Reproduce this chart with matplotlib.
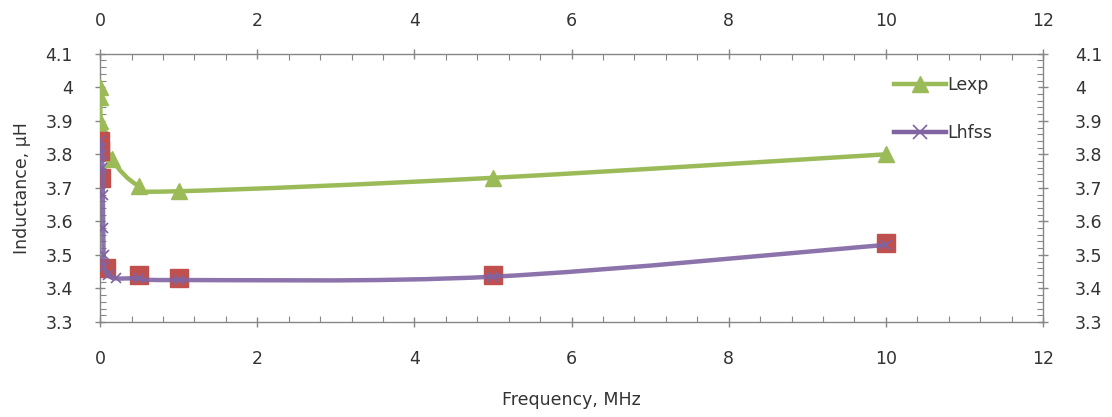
import numpy as np
import matplotlib
matplotlib.use("Agg")
import matplotlib.pyplot as plt
from matplotlib.path import Path
from matplotlib.patches import PathPatch
from matplotlib.lines import Line2D
from matplotlib.ticker import MultipleLocator

plt.rcParams["font.family"] = ["DejaVu Sans"]

# measured inductance
lexp_f = [0.001, 0.002, 0.005, 0.01, 0.15, 0.5, 1, 5, 10]
lexp = [4.00, 3.97, 3.90, 3.88, 3.785, 3.705, 3.69, 3.73, 3.80]

# HFSS simulation
lhfss_f = [0.001, 0.01, 0.02, 0.03, 0.035, 0.04, 0.045, 0.05, 0.1, 0.2, 0.5, 1, 5, 10]
lhfss = [3.84, 3.82, 3.80, 3.76, 3.68, 3.58, 3.50, 3.465, 3.44, 3.43, 3.43, 3.425, 3.435, 3.53]

# calculated points
lcalc_f = [0.001, 0.002, 0.01, 0.08, 0.5, 1, 5, 10]
lcalc = [3.84, 3.81, 3.73, 3.46, 3.44, 3.43, 3.44, 3.535]

x_ticks = [0, 2, 4, 6, 8, 10, 12]
y_ticks = [3.3, 3.4, 3.5, 3.6, 3.7, 3.8, 3.9, 4.0, 4.1]
y_labels = ["3.3", "3.4", "3.5", "3.6", "3.7", "3.8", "3.9", "4", "4.1"]

GREEN = "#9BBB59"
PURPLE = "#8064A2"
RED = "#C0504D"
GRID = "#868686"
TEXT = "#333333"
FS = 12.5


def smooth_path(x, y):
    # cubic bezier through the points, like a spreadsheet "smoothed line"
    pts = np.column_stack([x, y]).astype(float)
    n = len(pts)
    verts = [pts[0]]
    codes = [Path.MOVETO]
    for i in range(n - 1):
        p0 = pts[max(i - 1, 0)]
        p1 = pts[i]
        p2 = pts[i + 1]
        p3 = pts[min(i + 2, n - 1)]
        c1 = p1 + (p2 - p0) / 6
        c2 = p2 - (p3 - p1) / 6
        verts += [c1, c2, p2]
        codes += [Path.CURVE4] * 3
    return Path(verts, codes)


fig = plt.figure(figsize=(11.12, 4.17), dpi=100)
ax = fig.add_axes([0.090, 0.228, 0.848, 0.643])

ax.add_patch(PathPatch(smooth_path(lexp_f, lexp), fill=False, edgecolor=GREEN,
                       lw=3.2, capstyle="round", joinstyle="round", zorder=3))
ax.plot(lexp_f, lexp, ls="none", marker="^", ms=12, color=GREEN,
        markeredgecolor=GREEN, zorder=4)

ax.plot(lcalc_f, lcalc, ls="none", marker="s", ms=13, color=RED,
        markeredgecolor=RED, zorder=4)

ax.add_patch(PathPatch(smooth_path(lhfss_f, lhfss), fill=False, edgecolor=PURPLE,
                       lw=3.2, capstyle="round", joinstyle="round", zorder=5, alpha=0.9))
ax.plot(lhfss_f, lhfss, ls="none", marker="x", ms=7, color=PURPLE,
        markeredgewidth=1.2, zorder=5)

ax.set_xlim(0, 12)
ax.set_ylim(3.3, 4.1)
ax.set_xticks(x_ticks)
ax.set_yticks(y_ticks, y_labels)
ax.xaxis.set_minor_locator(MultipleLocator(0.4))
ax.yaxis.set_minor_locator(MultipleLocator(0.02))

for s in ax.spines.values():
    s.set_color(GRID)
    s.set_linewidth(1.0)

ax.tick_params(which="both", top=True, right=True, labeltop=False, labelright=False,
               color=GRID, labelsize=FS, labelcolor=TEXT)
ax.tick_params(which="major", direction="inout", length=7, width=1)
ax.tick_params(which="minor", direction="in", length=4, width=0.8)
ax.tick_params(axis="x", which="major", pad=17)
ax.tick_params(axis="y", which="major", pad=16)

# labels on the top and right edges
secx = ax.secondary_xaxis("top")
secx.set_xticks(x_ticks)
secx.tick_params(length=0, pad=17, labelsize=FS, labelcolor=TEXT)
secx.spines["top"].set_visible(False)

secy = ax.secondary_yaxis("right")
secy.set_yticks(y_ticks, y_labels)
secy.tick_params(length=0, pad=23, labelsize=FS, labelcolor=TEXT)
secy.spines["right"].set_visible(False)

ax.set_xlabel("Frequency, MHz", fontsize=FS, color=TEXT, labelpad=16)
ax.set_ylabel("Inductance, \u00b5H", fontsize=FS, color=TEXT, labelpad=10)

handles = [
    Line2D([], [], color=GREEN, lw=3.2, marker="^", ms=12),
    Line2D([], [], color=PURPLE, lw=3.2, marker="x", ms=10, markeredgewidth=1.2),
]
ax.legend(handles, ["Lexp", "Lhfss"], loc="upper left", bbox_to_anchor=(0.825, 0.975),
          frameon=False, fontsize=FS, labelspacing=1.7, handlelength=3.0,
          handletextpad=0.1, labelcolor=TEXT)

fig.savefig("out.png", dpi=100, facecolor="white")
